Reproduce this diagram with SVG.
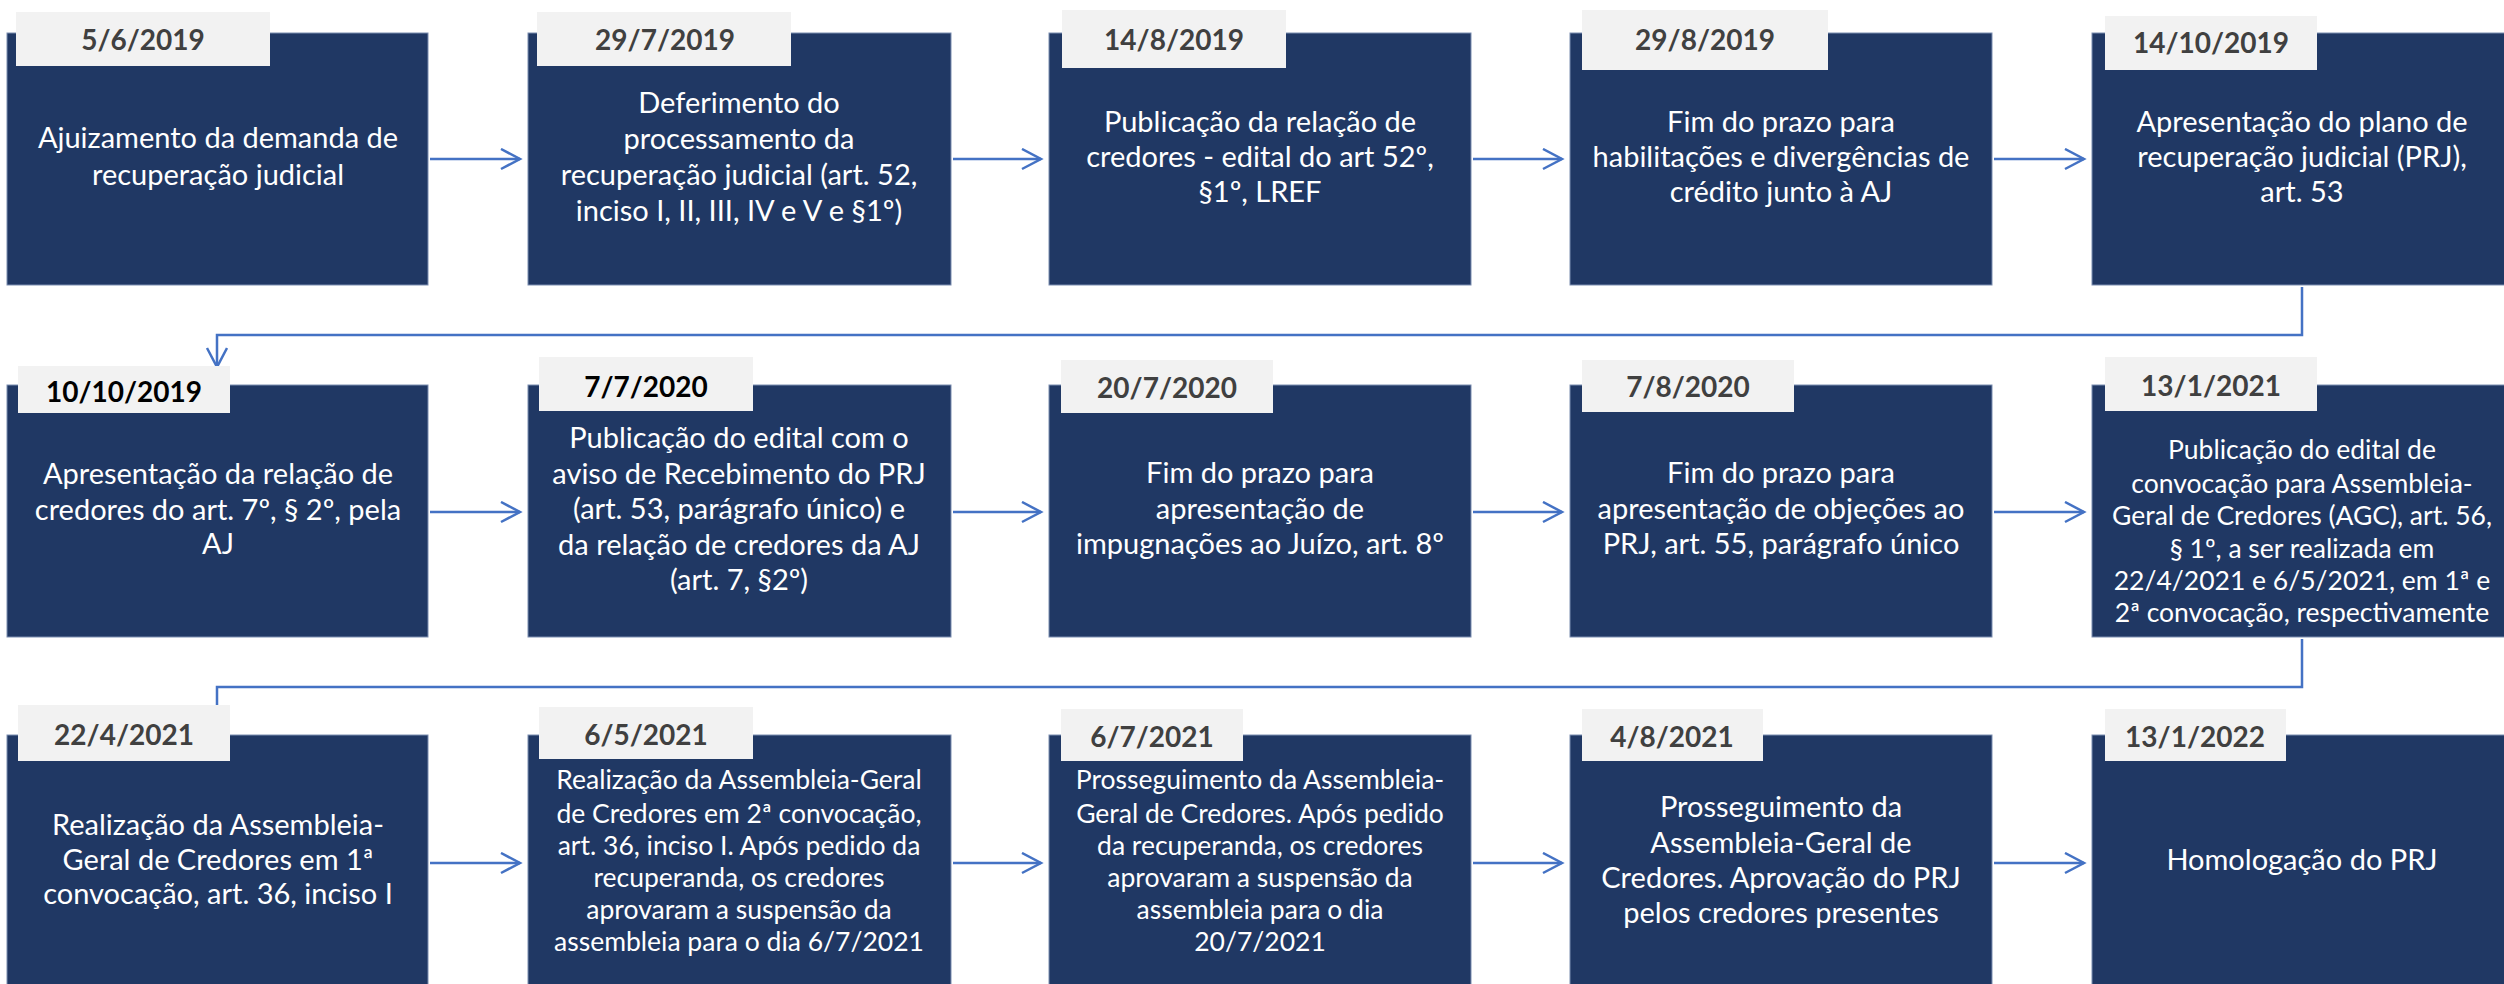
<svg xmlns="http://www.w3.org/2000/svg" width="2504" height="984" viewBox="0 0 2504 984">
<style>
.box{fill:#203864;stroke:#7b8db0;stroke-width:1}
.tab{fill:#f2f2f2}
.date{font-family:Lato,"Liberation Sans",sans-serif;font-weight:bold;font-size:28px;fill:#404040;text-anchor:middle}
.dk{fill:#000}
.t{font-family:Lato,"Liberation Sans",sans-serif;font-size:29px;fill:#fff;text-anchor:middle}
.s{font-size:26.5px}
.c{fill:none;stroke:#4472c4;stroke-width:2.5}
</style>
<defs>
<marker id="ah" markerUnits="userSpaceOnUse" markerWidth="24" markerHeight="24" refX="20" refY="11" orient="auto" viewBox="0 0 24 24">
<path d="M1,1 L20,11 L1,21" fill="none" stroke="#4472c4" stroke-width="2.5"/>
</marker>
</defs>
<rect width="2504" height="984" fill="#fff"/>
<g id="connectors">
<line class="c" x1="430" y1="159" x2="520" y2="159" marker-end="url(#ah)"/>
<line class="c" x1="953" y1="159" x2="1041" y2="159" marker-end="url(#ah)"/>
<line class="c" x1="1473" y1="159" x2="1562" y2="159" marker-end="url(#ah)"/>
<line class="c" x1="1994" y1="159" x2="2084" y2="159" marker-end="url(#ah)"/>
<path class="c" d="M2302,287 V335 H217 V367" marker-end="url(#ah)"/>
<line class="c" x1="430" y1="512" x2="520" y2="512" marker-end="url(#ah)"/>
<line class="c" x1="953" y1="512" x2="1041" y2="512" marker-end="url(#ah)"/>
<line class="c" x1="1473" y1="512" x2="1562" y2="512" marker-end="url(#ah)"/>
<line class="c" x1="1994" y1="512" x2="2084" y2="512" marker-end="url(#ah)"/>
<path class="c" d="M2302,639 V687 H217 V730" marker-end="url(#ah)"/>
<line class="c" x1="430" y1="863" x2="520" y2="863" marker-end="url(#ah)"/>
<line class="c" x1="953" y1="863" x2="1041" y2="863" marker-end="url(#ah)"/>
<line class="c" x1="1473" y1="863" x2="1562" y2="863" marker-end="url(#ah)"/>
<line class="c" x1="1994" y1="863" x2="2084" y2="863" marker-end="url(#ah)"/>
</g>
<g id="n1"><rect class="box" x="7" y="33" width="421" height="252"/><rect class="tab" x="16" y="12" width="254" height="54"/><text class="date" x="143" y="50">5/6/2019</text>
<text class="t" x="218" y="148">Ajuizamento da demanda de</text><text class="t" x="218" y="185">recuperação judicial</text></g>
<g id="n2"><rect class="box" x="528" y="33" width="423" height="252"/><rect class="tab" x="537" y="12" width="254" height="54"/><text class="date" x="665" y="50">29/7/2019</text>
<text class="t" x="739" y="113">Deferimento do</text><text class="t" x="739" y="149">processamento da</text><text class="t" x="739" y="185">recuperação judicial (art. 52,</text><text class="t" x="739" y="221">inciso I, II, III, IV e V e §1º)</text></g>
<g id="n3"><rect class="box" x="1049" y="33" width="422" height="252"/><rect class="tab" x="1062" y="10" width="224" height="58"/><text class="date" x="1174" y="50">14/8/2019</text>
<text class="t" x="1260" y="132">Publicação da relação de</text><text class="t" x="1260" y="167">credores - edital do art 52º,</text><text class="t" x="1260" y="202">§1º, LREF</text></g>
<g id="n4"><rect class="box" x="1570" y="33" width="422" height="252"/><rect class="tab" x="1582" y="10" width="246" height="60"/><text class="date" x="1705" y="50">29/8/2019</text>
<text class="t" x="1781" y="132">Fim do prazo para</text><text class="t" x="1781" y="167">habilitações e divergências de</text><text class="t" x="1781" y="202">crédito junto à AJ</text></g>
<g id="n5"><rect class="box" x="2092" y="33" width="422" height="252"/><rect class="tab" x="2105" y="16" width="212" height="54"/><text class="date" x="2211" y="53">14/10/2019</text>
<text class="t" x="2302" y="132">Apresentação do plano de</text><text class="t" x="2302" y="167">recuperação judicial (PRJ),</text><text class="t" x="2302" y="202">art. 53</text></g>
<g id="n6"><rect class="box" x="7" y="385" width="421" height="252"/><rect class="tab" x="18" y="366" width="212" height="47"/><text class="date dk" x="124" y="402">10/10/2019</text>
<text class="t" x="218" y="484">Apresentação da relação de</text><text class="t" x="218" y="520">credores do art. 7º, § 2º, pela</text><text class="t" x="218" y="554">AJ</text></g>
<g id="n7"><rect class="box" x="528" y="385" width="423" height="252"/><rect class="tab" x="539" y="357" width="214" height="54"/><text class="date dk" x="646" y="397">7/7/2020</text>
<text class="t" x="739" y="448">Publicação do edital com o</text><text class="t" x="739" y="484">aviso de Recebimento do PRJ</text><text class="t" x="739" y="519">(art. 53, parágrafo único) e</text><text class="t" x="739" y="555">da relação de credores da AJ</text><text class="t" x="739" y="590">(art. 7, §2º)</text></g>
<g id="n8"><rect class="box" x="1049" y="385" width="422" height="252"/><rect class="tab" x="1061" y="360" width="212" height="53"/><text class="date" x="1167" y="398">20/7/2020</text>
<text class="t" x="1260" y="483">Fim do prazo para</text><text class="t" x="1260" y="519">apresentação de</text><text class="t" x="1260" y="554">impugnações ao Juízo, art. 8º</text></g>
<g id="n9"><rect class="box" x="1570" y="385" width="422" height="252"/><rect class="tab" x="1582" y="360" width="212" height="52"/><text class="date" x="1688" y="397">7/8/2020</text>
<text class="t" x="1781" y="483">Fim do prazo para</text><text class="t" x="1781" y="519">apresentação de objeções ao</text><text class="t" x="1781" y="554">PRJ, art. 55, parágrafo único</text></g>
<g id="n10"><rect class="box" x="2092" y="385" width="422" height="252"/><rect class="tab" x="2105" y="357" width="212" height="54"/><text class="date" x="2211" y="396">13/1/2021</text>
<text class="t s" x="2302" y="459">Publicação do edital de</text><text class="t s" x="2302" y="493">convocação para Assembleia-</text><text class="t s" x="2302" y="525">Geral de Credores (AGC), art. 56,</text><text class="t s" x="2302" y="558">§ 1º, a ser realizada em</text><text class="t s" x="2302" y="590">22/4/2021 e 6/5/2021, em 1ª e</text><text class="t s" x="2302" y="622">2ª convocação, respectivamente</text></g>
<g id="n11"><rect class="box" x="7" y="735" width="421" height="260"/><rect class="tab" x="18" y="705" width="212" height="56"/><text class="date" x="124" y="745">22/4/2021</text>
<text class="t" x="218" y="835">Realização da Assembleia-</text><text class="t" x="218" y="870">Geral de Credores em 1ª</text><text class="t" x="218" y="904">convocação, art. 36, inciso I</text></g>
<g id="n12"><rect class="box" x="528" y="735" width="423" height="260"/><rect class="tab" x="539" y="707" width="214" height="52"/><text class="date" x="646" y="745">6/5/2021</text>
<text class="t s" x="739" y="789">Realização da Assembleia-Geral</text><text class="t s" x="739" y="823">de Credores em 2ª convocação,</text><text class="t s" x="739" y="855">art. 36, inciso I. Após pedido da</text><text class="t s" x="739" y="887">recuperanda, os credores</text><text class="t s" x="739" y="919">aprovaram a suspensão da</text><text class="t s" x="739" y="951">assembleia para o dia 6/7/2021</text></g>
<g id="n13"><rect class="box" x="1049" y="735" width="422" height="260"/><rect class="tab" x="1061" y="709" width="182" height="52"/><text class="date" x="1152" y="747">6/7/2021</text>
<text class="t s" x="1260" y="789">Prosseguimento da Assembleia-</text><text class="t s" x="1260" y="823">Geral de Credores. Após pedido</text><text class="t s" x="1260" y="855">da recuperanda, os credores</text><text class="t s" x="1260" y="887">aprovaram a suspensão da</text><text class="t s" x="1260" y="919">assembleia para o dia</text><text class="t s" x="1260" y="951">20/7/2021</text></g>
<g id="n14"><rect class="box" x="1570" y="735" width="422" height="260"/><rect class="tab" x="1582" y="709" width="181" height="52"/><text class="date" x="1672" y="747">4/8/2021</text>
<text class="t" x="1781" y="817">Prosseguimento da</text><text class="t" x="1781" y="853">Assembleia-Geral de</text><text class="t" x="1781" y="888">Credores. Aprovação do PRJ</text><text class="t" x="1781" y="923">pelos credores presentes</text></g>
<g id="n15"><rect class="box" x="2092" y="735" width="422" height="260"/><rect class="tab" x="2105" y="709" width="181" height="52"/><text class="date" x="2195" y="747">13/1/2022</text>
<text class="t" x="2302" y="870">Homologação do PRJ</text></g>
</svg>
